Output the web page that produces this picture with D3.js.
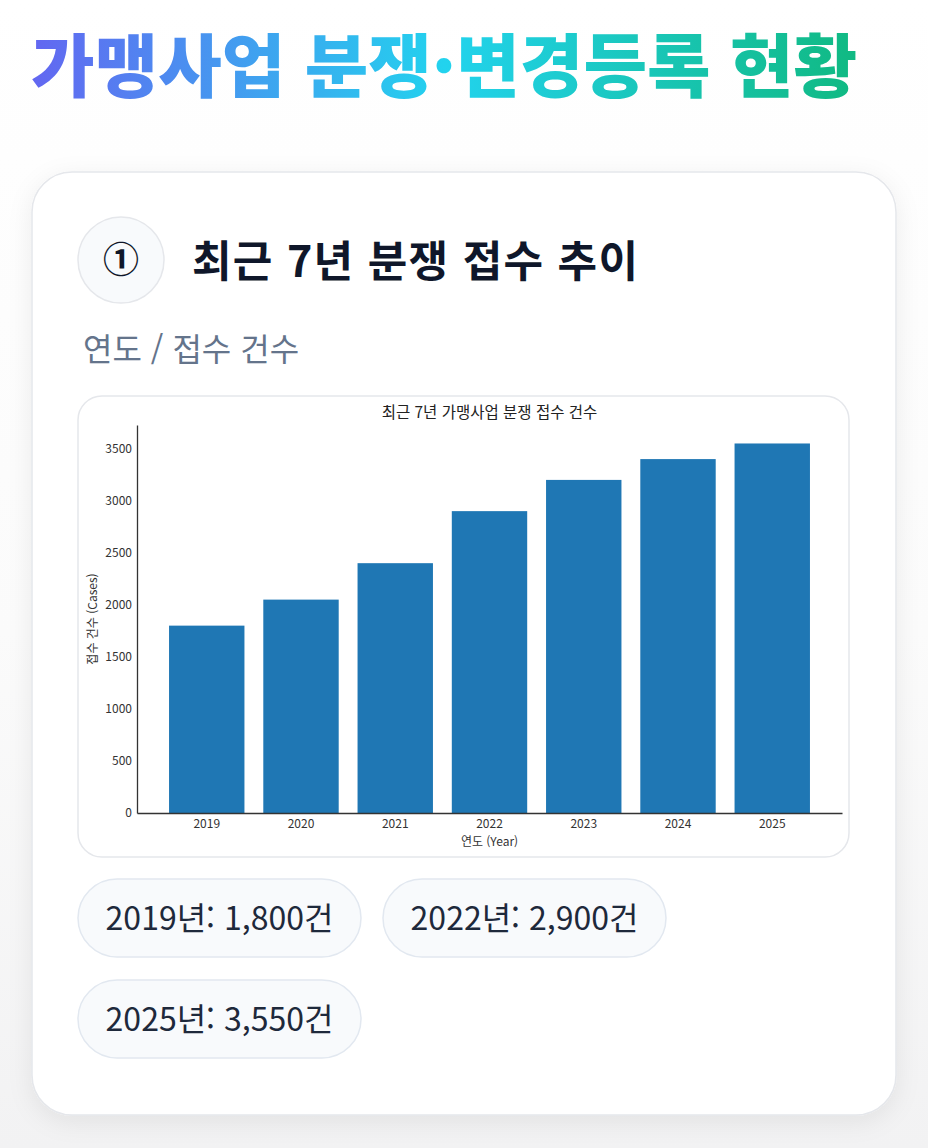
<!DOCTYPE html>
<html lang="ko">
<head>
<meta charset="utf-8">
<script src="https://cdn.jsdelivr.net/npm/d3@7"></script>
<style>
  html, body { margin: 0; padding: 0; background: #ffffff; }
  svg { display: block; }
</style>
</head>
<body>
<svg id="page"></svg>
<script>
// data
const years = ["2019", "2020", "2021", "2022", "2023", "2024", "2025"];
const cases = [1800, 2050, 2400, 2900, 3200, 3400, 3550];
const yTicks = [0, 500, 1000, 1500, 2000, 2500, 3000, 3500];
const pillYears = ["2019", "2022", "2025"];

const pageTitle = "가맹사업 분쟁·변경등록 현황";
const cardTitle = "최근 7년 분쟁 접수 추이";
const cardSub = "연도 / 접수 건수";
const chartTitle = "최근 7년 가맹사업 분쟁 접수 건수";
const xLabel = "연도 (Year)";
const yLabel = "접수 건수 (Cases)";

const W = 928, H = 1148;
const KR = "'Noto Sans CJK KR', 'Noto Sans', sans-serif";

const svg = d3.select("#page").attr("width", W).attr("height", H);
const defs = svg.append("defs");

// page background, fading to grey at the bottom
const bg = defs.append("linearGradient").attr("id", "bg")
    .attr("x1", 0).attr("y1", 0).attr("x2", 0).attr("y2", 1);
bg.append("stop").attr("offset", "0%").attr("stop-color", "#ffffff");
bg.append("stop").attr("offset", "55%").attr("stop-color", "#fbfbfb");
bg.append("stop").attr("offset", "100%").attr("stop-color", "#f2f2f3");
svg.append("rect").attr("width", W).attr("height", H).attr("fill", "url(#bg)");

// title gradient
const tg = defs.append("linearGradient").attr("id", "tg")
    .attr("gradientUnits", "userSpaceOnUse")
    .attr("x1", 30).attr("y1", 0).attr("x2", 860).attr("y2", 0);
tg.append("stop").attr("offset", "0%").attr("stop-color", "#6366f1");
tg.append("stop").attr("offset", "50%").attr("stop-color", "#22d3ee");
tg.append("stop").attr("offset", "100%").attr("stop-color", "#10b981");

const shadow = defs.append("filter").attr("id", "shadow")
    .attr("x", "-10%").attr("y", "-10%").attr("width", "120%").attr("height", "120%");
shadow.append("feDropShadow").attr("dx", 0).attr("dy", 6).attr("stdDeviation", 12)
    .attr("flood-color", "#000").attr("flood-opacity", 0.07);

svg.append("text")
    .attr("x", 31).attr("y", 92)
    .attr("font-family", KR).attr("font-weight", 900).attr("font-size", 69)
    .attr("textLength", 826).attr("lengthAdjust", "spacing")
    .attr("fill", "url(#tg)")
    .text(pageTitle);

// card
svg.append("rect")
    .attr("x", 32).attr("y", 172).attr("width", 864).attr("height", 943)
    .attr("rx", 40)
    .attr("fill", "#ffffff").attr("stroke", "#e5e7eb").attr("stroke-width", 1.5)
    .attr("filter", "url(#shadow)");

// numbered badge
svg.append("circle")
    .attr("cx", 121).attr("cy", 260).attr("r", 43)
    .attr("fill", "#f8fafc").attr("stroke", "#e5e7eb").attr("stroke-width", 1.5);
svg.append("text")
    .attr("x", 121).attr("y", 273)
    .attr("text-anchor", "middle")
    .attr("font-family", KR).attr("font-weight", 700).attr("font-size", 36)
    .attr("fill", "#0f172a")
    .text("①");

svg.append("text")
    .attr("x", 192).attr("y", 277)
    .attr("font-family", KR).attr("font-weight", 700).attr("font-size", 43)
    .attr("textLength", 446).attr("lengthAdjust", "spacing")
    .attr("fill", "#0f172a")
    .text(cardTitle);

svg.append("text")
    .attr("x", 83).attr("y", 361)
    .attr("font-family", KR).attr("font-size", 32)
    .attr("fill", "#64748b")
    .text(cardSub);

// chart panel
svg.append("rect")
    .attr("x", 78).attr("y", 396).attr("width", 771).attr("height", 461)
    .attr("rx", 24)
    .attr("fill", "#ffffff").attr("stroke", "#e5e7eb").attr("stroke-width", 1.5);

const plot = { left: 137, right: 842, top: 425, bottom: 813 };

const x = d3.scaleBand()
    .domain(years)
    .range([plot.left, plot.right])
    .paddingInner(0.2)
    .paddingOuter(0.34);

const y = d3.scaleLinear()
    .domain([0, d3.max(cases) * 1.05])
    .range([plot.bottom, plot.top]);

const chart = svg.append("g");

chart.selectAll(".bar")
    .data(years)
    .enter()
    .append("rect")
    .attr("class", "bar")
    .attr("x", d => x(d))
    .attr("y", (d, i) => y(cases[i]))
    .attr("width", x.bandwidth())
    .attr("height", (d, i) => plot.bottom - y(cases[i]))
    .attr("fill", "#1f77b4");

const yAxis = chart.append("g")
    .attr("transform", `translate(${plot.left},0)`)
    .call(d3.axisLeft(y).tickValues(yTicks).tickFormat(d3.format("d")).tickSize(0).tickPadding(5));

const xAxis = chart.append("g")
    .attr("transform", `translate(0,${plot.bottom})`)
    .call(d3.axisBottom(x).tickSize(0).tickPadding(6));

[xAxis, yAxis].forEach(ax => {
    ax.select(".domain").attr("stroke", "#333").attr("stroke-width", 1.3);
    ax.selectAll("text")
        .attr("font-family", KR).attr("font-size", 12)
        .attr("fill", "#333");
});

chart.append("text")
    .attr("x", (plot.left + plot.right) / 2).attr("y", 418)
    .attr("text-anchor", "middle")
    .attr("font-family", KR).attr("font-size", 15.5)
    .attr("fill", "#222")
    .text(chartTitle);

chart.append("text")
    .attr("x", (plot.left + plot.right) / 2).attr("y", 846)
    .attr("text-anchor", "middle")
    .attr("font-family", KR).attr("font-size", 12)
    .attr("fill", "#333")
    .text(xLabel);

chart.append("text")
    .attr("transform", `translate(97,${(plot.top + plot.bottom) / 2}) rotate(-90)`)
    .attr("text-anchor", "middle")
    .attr("font-family", KR).attr("font-size", 12)
    .attr("fill", "#333")
    .text(yLabel);

// summary pills
const fmt = d3.format(",");
const pillData = pillYears.map(yr => ({ year: yr, value: cases[years.indexOf(yr)] }));
const pillPos = [[78, 879], [383, 879], [78, 980]];

const pills = svg.selectAll(".pill")
    .data(pillData)
    .enter()
    .append("g")
    .attr("class", "pill")
    .attr("transform", (d, i) => `translate(${pillPos[i][0]},${pillPos[i][1]})`);

pills.append("rect")
    .attr("width", 283).attr("height", 78).attr("rx", 39)
    .attr("fill", "#f8fafc").attr("stroke", "#e2e8f0").attr("stroke-width", 1.5);

pills.append("text")
    .attr("x", 141.5).attr("y", 51)
    .attr("text-anchor", "middle")
    .attr("font-family", KR).attr("font-size", 32)
    .attr("fill", "#1e293b")
    .text(d => `${d.year}년: ${fmt(d.value)}건`);
</script>
</body>
</html>
